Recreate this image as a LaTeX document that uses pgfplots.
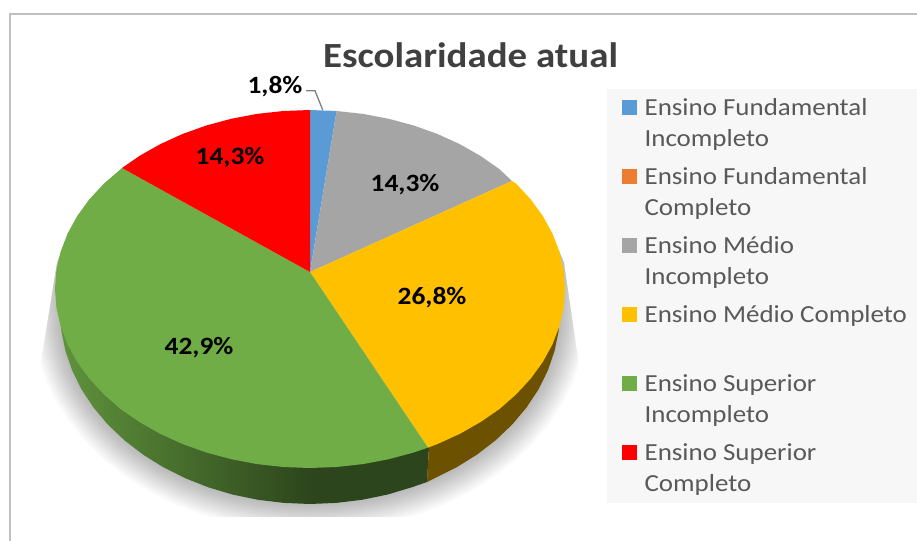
\documentclass[border=0pt]{standalone}
\usepackage{fontspec}
\setmainfont[FakeStretch=1.1]{Carlito}
\usepackage{pgfplots}
\usepackage{pgfplotstable}
\pgfplotsset{compat=1.18}

\definecolor{cblue}{HTML}{5B9BD5}
\definecolor{corange}{HTML}{ED7D31}
\definecolor{cgrey}{HTML}{A5A5A5}
\definecolor{cyellow}{HTML}{FFC000}
\definecolor{cgreen}{HTML}{70AD47}
\definecolor{cred}{HTML}{FF0000}
\definecolor{legbg}{HTML}{F7F7F7}
\definecolor{legtxt}{HTML}{595959}
\definecolor{frame}{HTML}{C0C0C0}

% lower rim of the pie, pixel coordinates of the picture
\pgfplotstableread{
x y
59 240
60 311
61.4 331.2
65.5 351.1
72.2 370.6
81.6 389.5
93.5 407.5
107.7 424.4
124.2 440.1
142.7 454.4
163.1 467.1
185 478.1
208.3 487.3
232.7 494.6
258 499.8
283.9 502.9
310 504
336.1 502.9
362 499.8
387.3 494.6
411.7 487.3
435 478.1
456.9 467.1
477.3 454.4
495.8 440.1
512.3 424.4
526.5 407.5
538.4 389.5
547.8 370.6
554.5 351.1
558.6 331.2
560 311
561 240
}\rim

\newcommand{\legline}[2]{\makebox[265bp][l]{\hspace*{8bp}\parbox[t]{249bp}{\setlength{\baselineskip}{30.5bp}\mbox{#1}\\\mbox{#2}}}}
\newcommand{\swatch}[1]{\addlegendimage{legend image code/.code={\fill[#1] (0bp,10bp) rectangle (14bp,24bp);}}}

\begin{document}
\begin{tikzpicture}
\begin{axis}[
    scale only axis,
    width=917bp, height=541bp,
    xmin=0, xmax=917, ymin=0, ymax=541,
    y dir=reverse,
    hide axis,
    legend cell align=left,
    legend style={at={(axis cs:607,89)}, anchor=north west, fill=legbg, draw=none,
        inner xsep=15bp, inner ysep=0pt, row sep=0pt,
        nodes={inner sep=0pt, text=legtxt, text height=26.5bp, text depth=42.5bp},
        font=\fontsize{24.6}{30}\selectfont},
]
% page background
\addplot[forget plot, fill=white, draw=none] coordinates {(0,0) (917,0) (917,541) (0,541)} -- cycle;

% soft shadow under the pie
\pgfplotsinvokeforeach{56,52,...,4}{
    \addplot[forget plot, draw=black, draw opacity=0.018, line width=#1bp, line join=round] table[x=x,y=y] {\rim};
}
\addplot[forget plot, fill=white, draw=none] coordinates {(0,517) (917,517) (917,541) (0,541)} -- cycle;
\addplot[forget plot, fill=white, draw=none] coordinates {(0,200) (110,200) (70,230) (57,262) (38,380) (0,380)} -- cycle;
\addplot[forget plot, fill=white, draw=none] coordinates {(510,200) (550,230) (564,262) (582,385) (606,385) (606,200)} -- cycle;

% chart frame
\addplot[forget plot, draw=frame, line width=1.5bp] coordinates {(10,541) (10,14) (917,14)};

% sides
\addplot[forget plot, draw=none, left color=cgreen!85!black, right color=cgreen!40!black] coordinates {
    (310,460) (310,504) (283.9,502.9) (258,499.8) (232.7,494.6) (208.3,487.3) (185,478.1)
    (163.1,467.1) (142.7,454.4) (124.2,440.1) (107.7,424.4) (93.5,407.5) (81.6,389.5)
    (72.2,370.6) (65.5,351.1) (61.4,331.2) (60,311) (70,300)
} -- cycle;
\addplot[forget plot, draw=none, fill=cgreen!40!black] coordinates {
    (310,460) (310,504) (336.1,502.9) (362,499.8) (387.3,494.6) (411.7,487.3) (427,482) (429,447)
} -- cycle;
\addplot[forget plot, draw=none, fill=cyellow!42!black] coordinates {
    (427,482) (435,478.1) (456.9,467.1) (477.3,454.4) (495.8,440.1) (512.3,424.4) (526.5,407.5)
    (538.4,389.5) (547.8,370.6) (554.5,351.1) (558.6,331.2) (560,311) (540,300) (429,447)
} -- cycle;

% top face
\addplot[forget plot, draw=none, fill=cblue] coordinates {(310,272) (310,110) (336.6,111)} -- cycle;
\addplot[forget plot, draw=none, fill=cgrey] coordinates {
    (310,272) (336.6,111) (363,113.9) (388.8,118.8) (413.7,125.5) (437.5,134) (459.9,144.2)
    (480.6,156) (499.5,169.2) (512,181)
} -- cycle;
\addplot[forget plot, draw=none, fill=cyellow] coordinates {
    (310,272) (512,181) (516.3,183.8) (530.8,199.5) (542.9,216.2) (552.5,233.7) (559.4,251.8)
    (563.6,270.3) (565,289) (563.6,307.7) (559.4,326.2) (552.5,344.3) (542.9,361.8) (530.8,378.5)
    (516.3,394.2) (499.5,409) (480.6,422) (459.9,433.8) (437.5,444) (428,447.6)
} -- cycle;
\addplot[forget plot, draw=none, fill=cgreen] coordinates {
    (310,272) (428,447.6) (413.7,452.5) (388.8,459.2) (363,464.1) (336.6,467) (310,468) (283.4,467)
    (257,464.1) (231.2,459.2) (206.3,452.5) (182.5,444) (160.1,433.8) (139.4,422) (120.5,409)
    (103.7,394.2) (89.2,378.5) (77.1,361.8) (67.5,344.3) (60.6,326.2) (56.4,307.7) (55,289)
    (56.4,270.3) (60.6,251.8) (67.5,233.7) (77.1,216.2) (89.2,199.5) (103.7,183.8) (122,168)
} -- cycle;
\addplot[forget plot, draw=none, fill=cred] coordinates {
    (310,272) (122,168) (139.4,156) (160.1,144.2) (182.5,134) (206.3,125.5) (231.2,118.8)
    (257,113.9) (283.4,111) (310,110)
} -- cycle;

% leader line of the small slice
\addplot[forget plot, draw=gray, line width=1.3bp] coordinates {(306,90.7) (315,90.7) (322.7,110)};

% legend
\swatch{cblue}   \addlegendentry{\legline{Ensino Fundamental}{Incompleto}}
\swatch{corange} \addlegendentry{\legline{Ensino Fundamental}{Completo}}
\swatch{cgrey}   \addlegendentry{\legline{Ensino Médio}{Incompleto}}
\swatch{cyellow} \addlegendentry{\legline{Ensino Médio Completo}{}}
\swatch{cgreen}  \addlegendentry{\legline{Ensino Superior}{Incompleto}}
\swatch{cred}    \addlegendentry{\legline{Ensino Superior}{Completo}}

% title and value labels
\node[font=\fontsize{35.5}{40}\selectfont\bfseries, text=black!75] at (axis cs:470.5,55.5) {Escolaridade atual};
\begin{scope}[every node/.style={font=\fontsize{25}{28}\selectfont\bfseries, text=black}]
\node at (axis cs:275,87) {1,8\%};
\node at (axis cs:230,157.5) {14,3\%};
\node at (axis cs:405,185) {14,3\%};
\node at (axis cs:432,298) {26,8\%};
\node at (axis cs:199,347.5) {42,9\%};
\end{scope}
\end{axis}
\end{tikzpicture}
\end{document}
